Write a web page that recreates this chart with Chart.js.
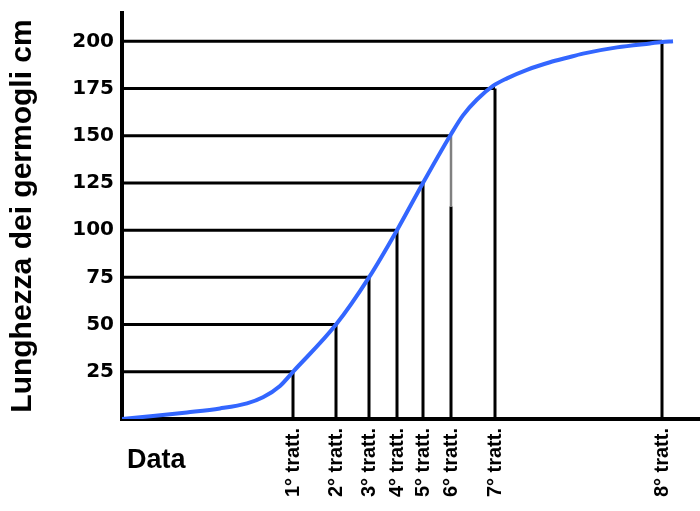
<!DOCTYPE html>
<html>
<head>
<meta charset="utf-8">
<script src="https://cdn.jsdelivr.net/npm/chart.js@4/dist/chart.umd.min.js"></script>
<style>
  html, body { margin: 0; padding: 0; background: #fff; }
  #wrap { width: 700px; height: 511px; }
</style>
</head>
<body>
<div id="wrap"><canvas id="c" width="700" height="511"></canvas></div>
<script>
// ---- data ----
const treatLabels = ['1° tratt.', '2° tratt.', '3° tratt.', '4° tratt.', '5° tratt.', '6° tratt.', '7° tratt.', '8° tratt.'];
const treatX = [171, 214, 247, 275, 301, 329, 373, 540];          // position along the date axis
const levels = [25, 50, 75, 100, 125, 150, 175, 200];             // shoot length at each treatment (cm)
const yTickValues = [25, 50, 75, 100, 125, 150, 175, 200];
const yTickLabels = ['25', '50', '75', '100', '125', '150', '175', '200'];
const curveX = [0, 31, 65, 98, 125, 141, 158, 171, 214, 247, 275, 301, 329, 341, 355, 371, 385, 405, 428, 445, 461, 495, 528, 540, 551];
const curveY = [0, 1.6, 3.5, 5.6, 8.3, 11.5, 17.5, 25, 50, 75, 100, 125, 150.8, 160.8, 169.2, 176.4, 180.4, 184.9, 188.9, 191.3, 193.5, 196.8, 198.9, 199.6, 200.1];
const fadedIndex = 5;            // 6th treatment line has a grey upper part
const fadedSpan = [150, 112.5];  // value range of that grey part
const xAxisTitle = 'Data';
const yAxisTitle = 'Lunghezza dei germogli cm';

const BLUE = '#3366ff';

const datasets = [];
datasets.push({
  data: curveX.map((x, i) => ({ x: x, y: curveY[i] })),
  showLine: true, borderColor: BLUE, borderWidth: 4, pointRadius: 0,
  cubicInterpolationMode: 'monotone', fill: false
});
treatX.forEach((tx, i) => {
  datasets.push({
    data: [{ x: 0, y: levels[i] }, { x: tx, y: levels[i] }],
    showLine: true, borderColor: '#000', borderWidth: 3, pointRadius: 0, tension: 0
  });
  datasets.push({
    data: [{ x: tx, y: levels[i] }, { x: tx, y: 0 }],
    showLine: true, borderColor: '#000', borderWidth: 3, pointRadius: 0, tension: 0
  });
});
datasets.push({
  data: [{ x: treatX[fadedIndex], y: fadedSpan[0] }, { x: treatX[fadedIndex], y: fadedSpan[1] }],
  showLine: true, borderColor: '#ffffff', borderWidth: 3.5, pointRadius: 0, tension: 0
});
datasets.push({
  data: [{ x: treatX[fadedIndex], y: fadedSpan[0] }, { x: treatX[fadedIndex], y: fadedSpan[1] }],
  showLine: true, borderColor: '#808080', borderWidth: 2, pointRadius: 0, tension: 0
});
// keep the curve on top: chart.js draws dataset 0 last
const curve = datasets.shift();
const ordered = [curve].concat(datasets.reverse());

const dataLabelPlugin = {
  id: 'dataLabel',
  afterDraw(chart) {
    const ctx = chart.ctx;
    const xs = chart.scales.x;
    ctx.save();
    ctx.fillStyle = '#000';
    ctx.font = 'bold 27px "Liberation Sans", Arial, sans-serif';
    ctx.textAlign = 'left';
    ctx.textBaseline = 'alphabetic';
    ctx.fillText(xAxisTitle, xs.left + 5, xs.top + 49);
    ctx.restore();
  }
};

new Chart(document.getElementById('c'), {
  type: 'scatter',
  data: { datasets: ordered },
  plugins: [dataLabelPlugin],
  options: {
    responsive: false,
    animation: false,
    layout: { padding: { top: 13, right: 0, left: 0, bottom: 0 } },
    plugins: { legend: { display: false }, tooltip: { enabled: false } },
    scales: {
      x: {
        type: 'linear', min: 0, max: 578,
        grid: { display: false, drawTicks: false },
        border: { display: true, color: '#000', width: 4 },
        afterBuildTicks: (s) => { s.ticks = treatX.map(v => ({ value: v })); },
        afterFit: (s) => { s.height = 92; s.paddingLeft = 0; s.paddingRight = 0; },
        ticks: {
          autoSkip: false, minRotation: 90, maxRotation: 90, padding: 9,
          color: '#000',
          font: { family: '"Liberation Sans", Arial, sans-serif', size: 20, weight: 'bold' },
          callback: (v) => { const i = treatX.indexOf(v); return i >= 0 ? treatLabels[i] : ''; }
        }
      },
      y: {
        type: 'linear', min: 0, max: 215,
        grid: { display: false, drawTicks: false },
        border: { display: true, color: '#000', width: 4 },
        afterBuildTicks: (s) => { s.ticks = yTickValues.map(v => ({ value: v })); },
        afterFit: (s) => { s.width = 122; s.paddingTop = 0; s.paddingBottom = 0; },
        title: {
          display: true, text: yAxisTitle, color: '#000',
          font: { family: '"Liberation Sans", Arial, sans-serif', size: 30, weight: 'bold' },
          padding: { top: 5, bottom: 0 }
        },
        ticks: {
          padding: 8, color: '#000',
          font: { family: '"DejaVu Sans", sans-serif', size: 20, weight: 'bold' },
          callback: (v) => { const i = yTickValues.indexOf(v); return i >= 0 ? yTickLabels[i] : ''; }
        }
      }
    }
  }
});
</script>
</body>
</html>
